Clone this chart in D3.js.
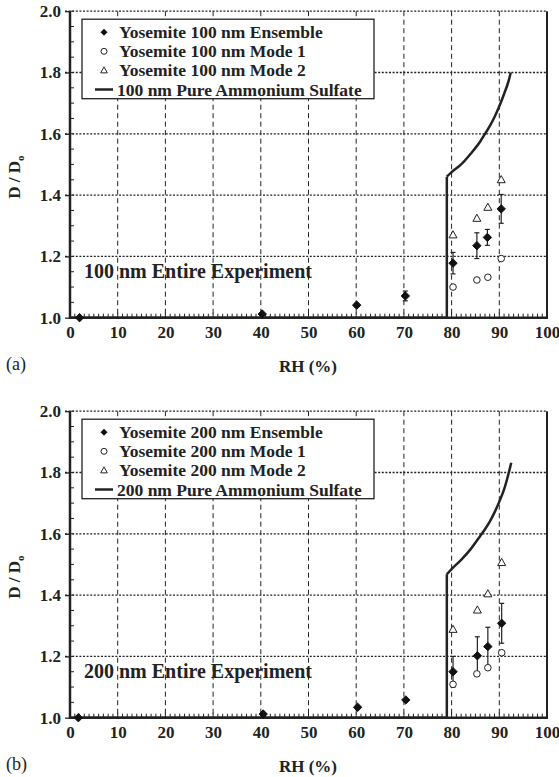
<!DOCTYPE html>
<html><head><meta charset="utf-8">
<script src="https://cdn.jsdelivr.net/npm/d3@7"></script>
<style>
html,body{margin:0;padding:0;background:#fff;}
svg{display:block;font-family:"Liberation Serif","Times New Roman",serif;}
</style></head>
<body><svg id="c" width="559" height="777"></svg>
<script>
// ---- data ----
const xTicks = [0,10,20,30,40,50,60,70,80,90,100];
const yTicks = [1.0,1.2,1.4,1.6,1.8,2.0];

// Panel (a) 100 nm
const a_ensRH  = [2.0, 40.3, 60.1, 70.3, 80.3, 85.3, 87.5, 90.4];
const a_ensD   = [1.0, 1.012, 1.041, 1.071, 1.178, 1.235, 1.262, 1.355];
const a_ensErr = [0.0, 0.0, 0.006, 0.016, 0.035, 0.042, 0.026, 0.047];
const a_m1RH = [80.3, 85.3, 87.6, 90.4];
const a_m1D  = [1.100, 1.123, 1.132, 1.193];
const a_m2RH = [80.3, 85.3, 87.6, 90.4];
const a_m2D  = [1.270, 1.324, 1.360, 1.450];
const a_asRH = [0, 79.0, 79.0, 80, 82, 84, 86, 87, 88, 89, 90, 91, 92, 92.4];
const a_asD  = [1.0, 1.0, 1.46, 1.475, 1.50, 1.535, 1.575, 1.60, 1.625, 1.655, 1.69, 1.73, 1.775, 1.80];

// Panel (b) 200 nm
const b_ensRH  = [1.75, 40.5, 60.3, 70.4, 80.3, 85.4, 87.6, 90.5];
const b_ensD   = [1.0, 1.012, 1.034, 1.058, 1.150, 1.202, 1.232, 1.308];
const b_ensErr = [0.0, 0.0, 0.0, 0.0, 0.05, 0.062, 0.063, 0.065];
const b_m1RH = [80.3, 85.3, 87.6, 90.5];
const b_m1D  = [1.109, 1.143, 1.163, 1.212];
const b_m2RH = [80.3, 85.4, 87.6, 90.5];
const b_m2D  = [1.288, 1.351, 1.404, 1.506];
const b_asRH = [0, 79.0, 79.0, 80, 82, 84, 86, 87, 88, 89, 90, 91, 92, 92.5];
const b_asD  = [1.0, 1.0, 1.468, 1.485, 1.515, 1.55, 1.593, 1.615, 1.64, 1.67, 1.705, 1.745, 1.80, 1.832];

const panels = [
  {top:11.2, size:"100", tag:"(a)", ensRH:a_ensRH, ensD:a_ensD, ensErr:a_ensErr,
   m1RH:a_m1RH, m1D:a_m1D, m2RH:a_m2RH, m2D:a_m2D, asRH:a_asRH, asD:a_asD},
  {top:411.2, size:"200", tag:"(b)", ensRH:b_ensRH, ensD:b_ensD, ensErr:b_ensErr,
   m1RH:b_m1RH, m1D:b_m1D, m2RH:b_m2RH, m2D:b_m2D, asRH:b_asRH, asD:b_asD}
];

const svg = d3.select("#c");
const L = 70, R = 547, H = 306.5;
const FF = "Liberation Serif, Times New Roman, serif";

panels.forEach(p => {
  const g = svg.append("g");
  const x = d3.scaleLinear().domain([0,100]).range([L,R]);
  const y = d3.scaleLinear().domain([1,2]).range([p.top+H, p.top]);
  const y0 = y(1), yTop = y(2);

  g.selectAll(".vg").data(xTicks.filter(d=>d>0&&d<100)).join("line")
    .attr("x1",d=>x(d)).attr("x2",d=>x(d)).attr("y1",yTop).attr("y2",y0)
    .attr("stroke","#222").attr("stroke-width",1).attr("stroke-dasharray","5,3.5");
  g.selectAll(".hg").data(yTicks.filter(d=>d>1)).join("line")
    .attr("x1",L-5).attr("x2",R).attr("y1",d=>y(d)).attr("y2",d=>y(d))
    .attr("stroke","#222").attr("stroke-width",1.3).attr("stroke-dasharray","2,1.6");

  g.append("line").attr("x1",R).attr("x2",R).attr("y1",yTop).attr("y2",y0)
    .attr("stroke","#222").attr("stroke-width",2);

  const xAx = d3.axisBottom(x).tickValues(xTicks).tickSize(0).tickPadding(8).tickFormat(d3.format("d"));
  const xa = g.append("g").attr("transform",`translate(0,${y0})`).call(xAx);
  xa.select(".domain").remove();
  xa.selectAll("text").attr("font-size",17).attr("font-weight","bold")
    .attr("font-family",FF).attr("fill","#222");
  g.selectAll(".xm").data(d3.range(0,101,1)).join("line")
    .attr("x1",d=>x(d)).attr("x2",d=>x(d)).attr("y1",y0).attr("y2",d=>d%10===0?y0-5:y0-4)
    .attr("stroke","#222").attr("stroke-width",1);

  const yAx = d3.axisLeft(y).tickValues(yTicks).tickSize(5).tickPadding(4).tickFormat(d3.format(".1f"));
  const ya = g.append("g").attr("transform",`translate(${L},0)`).call(yAx);
  ya.select(".domain").remove();
  ya.selectAll(".tick line").attr("stroke","#222").attr("stroke-width",1.3);
  ya.selectAll("text").attr("font-size",17).attr("font-weight","bold")
    .attr("font-family",FF).attr("fill","#222");
  g.selectAll(".ym").data(d3.range(1,2.0001,0.05)).join("line")
    .attr("x1",L).attr("x2",L+4).attr("y1",d=>y(d)).attr("y2",d=>y(d))
    .attr("stroke","#222").attr("stroke-width",1);

  g.append("line").attr("x1",L).attr("x2",L).attr("y1",yTop).attr("y2",y0+1)
    .attr("stroke","#222").attr("stroke-width",2.5);
  g.append("line").attr("x1",L-1).attr("x2",R+1).attr("y1",y0).attr("y2",y0)
    .attr("stroke","#222").attr("stroke-width",2.5);

  const asPts = p.asRH.map((r,i)=>[r,p.asD[i]]);
  g.append("path").attr("d", d3.line().x(d=>x(d[0])).y(d=>y(d[1]))(asPts.slice(0,3)))
    .attr("fill","none").attr("stroke","#222").attr("stroke-width",2.5);
  g.append("path").attr("d", d3.line().x(d=>x(d[0])).y(d=>y(d[1])).curve(d3.curveMonotoneX)(asPts.slice(2)))
    .attr("fill","none").attr("stroke","#222").attr("stroke-width",2.5);

  const eb = p.ensRH.map((r,i)=>({r, d:p.ensD[i], e:p.ensErr[i]})).filter(o=>o.e>0);
  eb.forEach(o=>{
    const xx = x(o.r), yl = y(o.d-o.e), yh = y(o.d+o.e);
    g.append("line").attr("x1",xx).attr("x2",xx).attr("y1",yl).attr("y2",yh).attr("stroke","#222").attr("stroke-width",1.2);
    [yl,yh].forEach(yy=>g.append("line").attr("x1",xx-2.5).attr("x2",xx+2.5).attr("y1",yy).attr("y2",yy).attr("stroke","#222").attr("stroke-width",1.2));
  });

  const diamond = s => `M0,${-s}L${s},0L0,${s}L${-s},0Z`;
  const tri = s => `M0,${-s}L${s*0.95},${s*0.7}L${-s*0.95},${s*0.7}Z`;

  g.selectAll(".m1").data(p.m1RH.map((r,i)=>[r,p.m1D[i]])).join("circle")
    .attr("cx",d=>x(d[0])).attr("cy",d=>y(d[1])).attr("r",3.3)
    .attr("fill","#fff").attr("stroke","#222").attr("stroke-width",1);
  g.selectAll(".m2").data(p.m2RH.map((r,i)=>[r,p.m2D[i]])).join("path")
    .attr("transform",d=>`translate(${x(d[0])},${y(d[1])})`).attr("d",tri(4.2))
    .attr("fill","#fff").attr("stroke","#222").attr("stroke-width",1);
  g.selectAll(".en").data(p.ensRH.map((r,i)=>[r,p.ensD[i]])).join("path")
    .attr("transform",d=>`translate(${x(d[0])},${y(d[1])})`).attr("d",diamond(4.2))
    .attr("fill","#111").attr("stroke","#111").attr("stroke-width",1);

  const lx = 82, ly = p.top + 8;
  g.append("rect").attr("x",lx).attr("y",ly).attr("width",292).attr("height",79.5)
    .attr("fill","#fff").attr("stroke","#222").attr("stroke-width",1.3);
  const labels = [`Yosemite ${p.size} nm Ensemble`,`Yosemite ${p.size} nm Mode 1`,`Yosemite ${p.size} nm Mode 2`,`${p.size} nm Pure Ammonium Sulfate`];
  labels.forEach((t,i)=>{
    const cy = ly + 13 + i*19.1;
    if(i===0) g.append("path").attr("transform",`translate(104,${cy})`).attr("d",diamond(3.5)).attr("fill","#111");
    if(i===1) g.append("circle").attr("cx",104).attr("cy",cy).attr("r",3).attr("fill","#fff").attr("stroke","#222");
    if(i===2) g.append("path").attr("transform",`translate(104,${cy})`).attr("d",tri(3.5)).attr("fill","#fff").attr("stroke","#222");
    if(i===3) g.append("line").attr("x1",95).attr("x2",113).attr("y1",cy).attr("y2",cy).attr("stroke","#222").attr("stroke-width",2.5);
    g.append("text").attr("x", i===3?117:119).attr("y",cy+6).attr("font-size",17.5).attr("font-weight","bold")
      .attr("fill","#222").text(t);
  });

  g.append("text").attr("x",84).attr("y",y(1.2)+21.6).attr("font-size",20).attr("font-weight","bold")
    .attr("fill","#222").text(`${p.size} nm Entire Experiment`);

  g.append("text").attr("x",308).attr("y",y0+54).attr("text-anchor","middle")
    .attr("font-size",17).attr("font-weight","bold").attr("fill","#222").text("RH (%)");
  const yt = g.append("text").attr("transform",`translate(20,${p.top+166}) rotate(-90)`)
    .attr("text-anchor","middle").attr("font-size",17).attr("font-weight","bold").attr("fill","#222");
  yt.append("tspan").text("D / D");
  yt.append("tspan").attr("font-size",11).attr("dy",4).text("o");

  g.append("text").attr("x",6).attr("y",y0+52).attr("font-size",18).attr("fill","#222").text(p.tag);
});
</script></body></html>
